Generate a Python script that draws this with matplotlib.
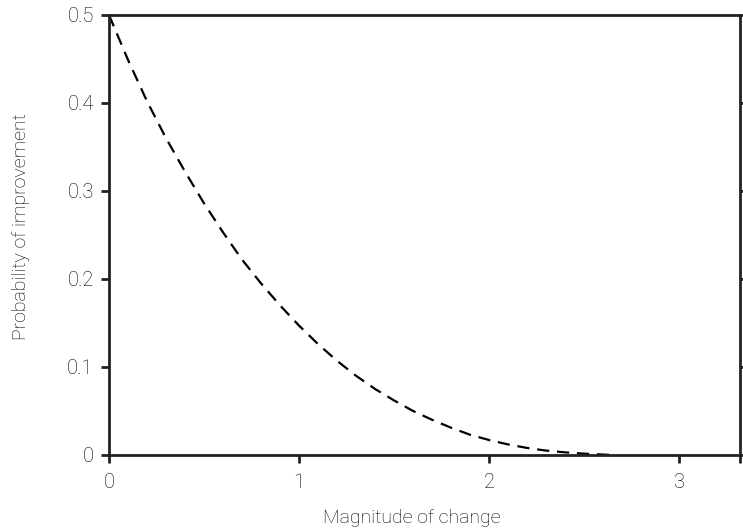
import matplotlib
matplotlib.use("Agg")
import matplotlib.pyplot as plt

# Data
magnitude = [0.0, 0.1, 0.2, 0.3, 0.4, 0.5, 0.6, 0.7, 0.8, 0.9, 1.0, 1.1, 1.2, 1.3,
             1.4, 1.5, 1.6, 1.7, 1.8, 1.9, 2.0, 2.1, 2.2, 2.3, 2.4, 2.5, 2.6, 2.65]
probability = [0.500, 0.449, 0.402, 0.360, 0.322, 0.286, 0.253, 0.222, 0.195, 0.170,
               0.147, 0.126, 0.107, 0.090, 0.075, 0.062, 0.050, 0.040, 0.031, 0.023,
               0.017, 0.012, 0.008, 0.005, 0.003, 0.0015, 0.0005, 0.0]
x_ticks = [0, 1, 2, 3]
y_ticks = [0, 0.1, 0.2, 0.3, 0.4, 0.5]
y_tick_labels = ["0", "0.1", "0.2", "0.3", "0.4", "0.5"]
x_max = 3.32

plt.rcParams['font.family'] = ['Roboto', 'DejaVu Sans']
text_color = "#000000"
spine_color = "#222222"

fig = plt.figure(figsize=(7.43, 5.29), dpi=100)
ax = fig.add_axes([109/743, 1 - 455/529, (740-109)/743, (455-15)/529])

ax.plot(magnitude, probability, color="black", lw=1.6, dashes=(5.5, 3.5))

ax.set_xlim(0, x_max)
ax.set_ylim(0, 0.5)
ax.set_xticks(x_ticks + [x_max])
ax.set_xticklabels([str(t) for t in x_ticks] + [""])
ax.set_yticks(y_ticks)
ax.set_yticklabels(y_tick_labels)

for s in ax.spines.values():
    s.set_linewidth(2)
    s.set_color(spine_color)

ax.tick_params(axis='both', direction='out', length=6, width=2, color=spine_color,
               labelsize=14.5, labelcolor=text_color)
ax.tick_params(axis='x', pad=7)
ax.tick_params(axis='y', right=True, pad=5)
for lab in ax.get_xticklabels() + ax.get_yticklabels():
    lab.set_fontweight('light')

ax.set_xlabel("Magnitude of change", fontsize=14, color=text_color, fontweight='light')
ax.set_ylabel("Probability of improvement", fontsize=14, color=text_color, fontweight='light')
ax.xaxis.set_label_coords((412 - 109) / 631, -0.122)
ax.yaxis.set_label_coords((30 - 109) / 631, 0.52)

fig.savefig("out.png", dpi=100)
